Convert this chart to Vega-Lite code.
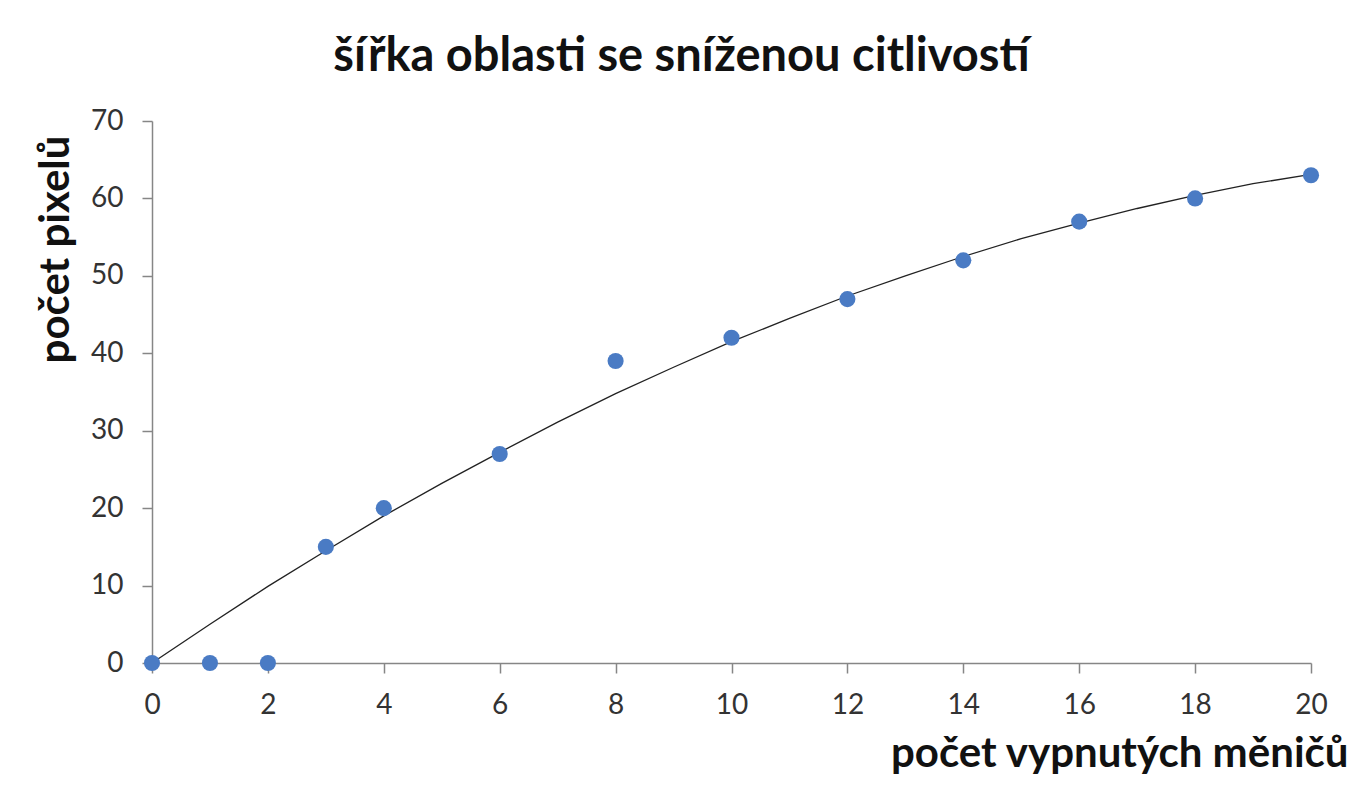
{
  "$schema": "https://vega.github.io/schema/vega-lite/v6.json",
  "width": 1159,
  "height": 542,
  "autosize": {"type": "none"},
  "padding": {"left": 152, "top": 121, "right": 50, "bottom": 137},
  "background": "white",
  "title": {
    "text": "šířka oblasti se sníženou citlivostí",
    "font": "Lato",
    "fontSize": 47,
    "fontWeight": "bold",
    "color": "#111111",
    "anchor": "middle",
    "dx": -50,
    "offset": 26
  },
  "datasets": {
    "points": [
      {"x": 0, "y": 0},
      {"x": 1, "y": 0},
      {"x": 2, "y": 0},
      {"x": 3, "y": 15},
      {"x": 4, "y": 20},
      {"x": 6, "y": 27},
      {"x": 8, "y": 39},
      {"x": 10, "y": 42},
      {"x": 12, "y": 47},
      {"x": 14, "y": 52},
      {"x": 16, "y": 57},
      {"x": 18, "y": 60},
      {"x": 20, "y": 63}
    ],
    "trend": [
      {"x": 0, "y": 0},
      {"x": 1, "y": 5.0},
      {"x": 2, "y": 9.9},
      {"x": 3, "y": 14.5},
      {"x": 4, "y": 19.0},
      {"x": 5, "y": 23.2},
      {"x": 6, "y": 27.2},
      {"x": 7, "y": 31.1},
      {"x": 8, "y": 34.8},
      {"x": 9, "y": 38.2},
      {"x": 10, "y": 41.5},
      {"x": 11, "y": 44.5},
      {"x": 12, "y": 47.4},
      {"x": 13, "y": 50.0},
      {"x": 14, "y": 52.5},
      {"x": 15, "y": 54.8},
      {"x": 16, "y": 56.8},
      {"x": 17, "y": 58.7},
      {"x": 18, "y": 60.4},
      {"x": 19, "y": 61.9},
      {"x": 20, "y": 63.1}
    ]
  },
  "encoding": {
    "x": {
      "field": "x",
      "type": "quantitative",
      "scale": {"domain": [0, 20], "nice": false, "zero": false},
      "axis": {
        "values": [0, 2, 4, 6, 8, 10, 12, 14, 16, 18, 20],
        "title": "počet vypnutých měničů",
        "titleFont": "Lato",
        "titleFontSize": 42,
        "titleFontWeight": "bold",
        "titleColor": "#111111",
        "titleAlign": "right",
        "titleAnchor": null,
        "titleBaseline": "alphabetic",
        "titleX": 1196,
        "titleY": 103,
        "labelFont": "Lato",
        "labelFontSize": 28,
        "labelColor": "#333333",
        "labelPadding": 18,
        "labelFlush": false,
        "labelOverlap": false,
        "tickSize": 10,
        "tickColor": "#868686",
        "tickWidth": 1.5,
        "domainColor": "#868686",
        "domainWidth": 1.5,
        "grid": false
      }
    },
    "y": {
      "field": "y",
      "type": "quantitative",
      "scale": {"domain": [0, 70], "nice": false},
      "axis": {
        "values": [0, 10, 20, 30, 40, 50, 60, 70],
        "title": "počet pixelů",
        "titleFont": "Lato",
        "titleFontSize": 42,
        "titleFontWeight": "bold",
        "titleColor": "#111111",
        "titleAngle": -90,
        "titleAlign": "center",
        "titleAnchor": null,
        "titleBaseline": "middle",
        "titleX": -97,
        "titleY": 128,
        "labelFont": "Lato",
        "labelFontSize": 28,
        "labelColor": "#333333",
        "labelPadding": 19,
        "labelFlush": false,
        "labelOverlap": false,
        "tickSize": 10,
        "tickColor": "#868686",
        "tickWidth": 1.5,
        "domainColor": "#868686",
        "domainWidth": 1.5,
        "grid": false
      }
    }
  },
  "layer": [
    {
      "data": {"name": "trend"},
      "mark": {"type": "line", "color": "#222222", "strokeWidth": 1.3, "clip": false}
    },
    {
      "data": {"name": "points"},
      "mark": {"type": "point", "filled": true, "size": 260, "color": "#4a7bc4", "opacity": 1, "clip": false}
    }
  ],
  "config": {
    "view": {"stroke": null}
  }
}
